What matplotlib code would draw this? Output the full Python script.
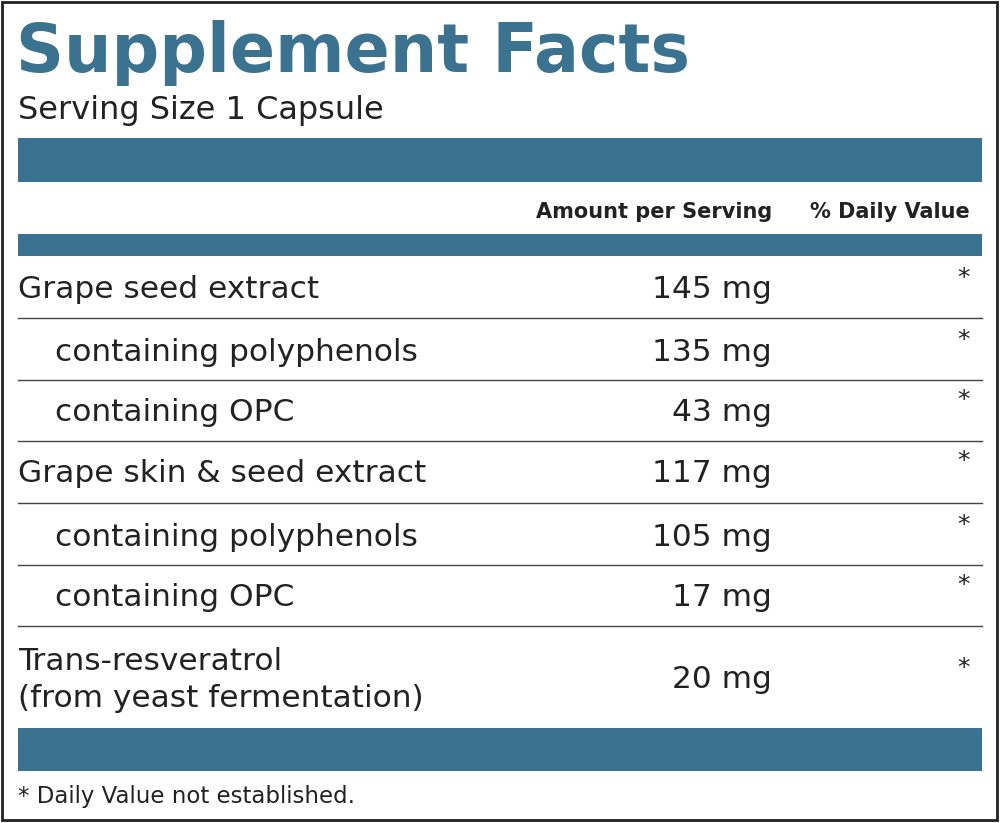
import matplotlib
matplotlib.use("Agg")
import matplotlib.pyplot as plt
from matplotlib.patches import Rectangle

title = "Supplement Facts"
serving = "Serving Size 1 Capsule"
headers = ["Amount per Serving", "% Daily Value"]
names = ["Grape seed extract", "containing polyphenols", "containing OPC",
         "Grape skin & seed extract", "containing polyphenols", "containing OPC",
         "Trans-resveratrol\n(from yeast fermentation)"]
indent = [False, True, True, False, True, True, False]
amounts = ["145 mg", "135 mg", "43 mg", "117 mg", "105 mg", "17 mg", "20 mg"]
dv = ["*"] * 7
footnote = "* Daily Value not established."

teal = "#3b7290"
fam = ["DejaVu Sans"]

fig = plt.figure(figsize=(10, 8.23), dpi=100)
ax = fig.add_axes([0, 0, 1, 1])
ax.set_xlim(0, 1000); ax.set_ylim(823, 0); ax.axis("off")

ax.add_patch(Rectangle((2, 2), 995, 818, fill=False, ec="#222", lw=2))
ax.text(16, 72, title, color=teal, fontsize=48, fontweight="bold", family=fam, va="baseline")
ax.text(18, 110, serving, fontsize=23, family=fam, va="center", color="#222")
for y0, h in [(138, 44), (234, 22), (728, 43)]:
    ax.add_patch(Rectangle((18, y0), 964, h, color=teal, lw=0))
ax.text(772, 212, headers[0], fontsize=15, fontweight="bold", family=fam, ha="right", va="center", color="#222")
ax.text(970, 212, headers[1], fontsize=15, fontweight="bold", family=fam, ha="right", va="center", color="#222")

centers = [290, 352, 412, 473, 537, 597, 680]
lines = [318, 380, 441, 503, 565, 626]
for y in lines:
    ax.plot([18, 982], [y, y], color="#444", lw=1)
for i, (n, a, d) in enumerate(zip(names, amounts, dv)):
    x = 55 if indent[i] else 18
    ax.text(x, centers[i], n, fontsize=22.5, family=fam, va="center", color="#222", linespacing=1.35)
    ax.text(772, centers[i], a, fontsize=22.5, family=fam, va="center", ha="right", color="#222")
    ax.text(970, centers[i] - 12, d, fontsize=18, family=fam, va="center", ha="right", color="#222")
ax.text(18, 796, footnote, fontsize=16.5, family=fam, va="center", color="#222")
fig.savefig("out.png", dpi=100)
